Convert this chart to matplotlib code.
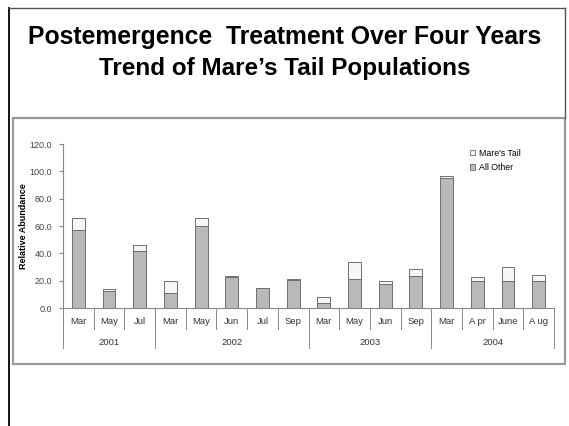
import matplotlib
matplotlib.use("Agg")
from matplotlib import pyplot as plt
from matplotlib.patches import Rectangle, Patch
from matplotlib.lines import Line2D
import numpy as np

# Sampling dates and years
months = ["Mar", "May", "Jul", "Mar", "May", "Jun", "Jul", "Sep",
          "Mar", "May", "Jun", "Sep", "Mar", "A pr", "June", "A ug"]
years = ["2001", "2002", "2003", "2004"]
year_sizes = [3, 5, 4, 4]

# Relative abundance: all other weeds and the Mare's tail portion stacked on top
all_other = [57.0, 12.5, 42.0, 10.8, 60.2, 23.0, 15.0, 20.2,
             3.7, 21.4, 17.7, 23.6, 95.3, 20.0, 20.0, 20.0]
mares_tail = [8.5, 1.5, 4.0, 9.0, 5.4, 0.5, 0.0, 1.2,
              4.2, 12.6, 2.2, 5.2, 1.5, 2.4, 10.0, 4.0]

plt.rcParams["font.family"] = ["Liberation Sans", "DejaVu Sans"]

fig = plt.figure(figsize=(5.69, 4.26), dpi=100)
W, H = 569.0, 426.0

# slide frame
fig.add_artist(Line2D([9/W, 9/W], [0, 1 - 8/H], color="black", lw=1.3))
fig.add_artist(Line2D([9/W, 565/W], [1 - 8/H, 1 - 8/H], color="#555555", lw=1.0))
fig.add_artist(Line2D([565/W, 565/W], [1 - 8/H, 1 - 118/H], color="#555555", lw=1.0))

# title
fig.text(0.5, 1 - 37/H, "Postemergence  Treatment Over Four Years",
         ha="center", va="center", fontsize=17.8, fontweight="bold")
fig.text(0.5, 1 - 68/H, "Trend of Mare\u2019s Tail Populations",
         ha="center", va="center", fontsize=17.5, fontweight="bold")

# chart box
fig.add_artist(Rectangle((13/W, 1 - 364/H), 552/W, 246/H, transform=fig.transFigure,
                         fill=False, edgecolor="#9a9a9a", lw=1.6))

ax = fig.add_axes([63/W, 118/H, 491/W, 164/H])
x = np.arange(len(months))
ax.bar(x, all_other, width=0.42, color="#b9b9b9", edgecolor="#6e6e6e", lw=0.7,
       label="All Other")
ax.bar(x, mares_tail, width=0.42, bottom=all_other, color="#f6f6f6",
       edgecolor="#6e6e6e", lw=0.7, label="Mare's Tail")

ax.set_xlim(-0.5, len(months) - 0.5)
ax.set_ylim(0, 120)
ax.set_yticks(np.arange(0, 121, 20))
ax.set_yticklabels(["%.1f" % v for v in np.arange(0, 121, 20)], fontsize=6.5,
                   color="#444444")
ax.tick_params(axis="y", length=3, color="#888888", pad=5)
ax.set_xticks([])
for s in ["top", "right"]:
    ax.spines[s].set_visible(False)
ax.spines["left"].set_color("#888888")
ax.spines["bottom"].set_color("#888888")
ax.set_ylabel("Relative Abundance", fontsize=6.5, fontweight="bold")
ax.yaxis.set_label_coords(-35/491, 0.5)

# two-level category axis
tr = ax.get_xaxis_transform()
for i, m in enumerate(months):
    ax.text(i, -0.08, m, transform=tr, ha="center", va="center", fontsize=6.8,
            color="#333333")
for b in range(1, len(months)):
    ax.plot([b - 0.5, b - 0.5], [0, -0.125], transform=tr, color="#888888",
            lw=0.7, clip_on=False)
edges = np.concatenate([[0], np.cumsum(year_sizes)]) - 0.5
for e in edges:
    ax.plot([e, e], [0, -0.245], transform=tr, color="#888888", lw=0.7,
            clip_on=False)
for k, yr in enumerate(years):
    ax.text((edges[k] + edges[k + 1]) / 2, -0.21, yr, transform=tr, ha="center",
            va="center", fontsize=6.8, color="#333333")

handles = [Patch(facecolor="#f6f6f6", edgecolor="#6e6e6e", lw=0.6, label="Mare's Tail"),
           Patch(facecolor="#b9b9b9", edgecolor="#6e6e6e", lw=0.6, label="All Other")]
ax.legend(handles=handles, loc="upper left", bbox_to_anchor=(462/W, 1 - 141/H),
          bbox_transform=fig.transFigure, frameon=False, fontsize=6.3,
          handlelength=0.55, handleheight=0.55, handletextpad=0.5, labelspacing=0.6)

fig.savefig("out.png", dpi=100)
